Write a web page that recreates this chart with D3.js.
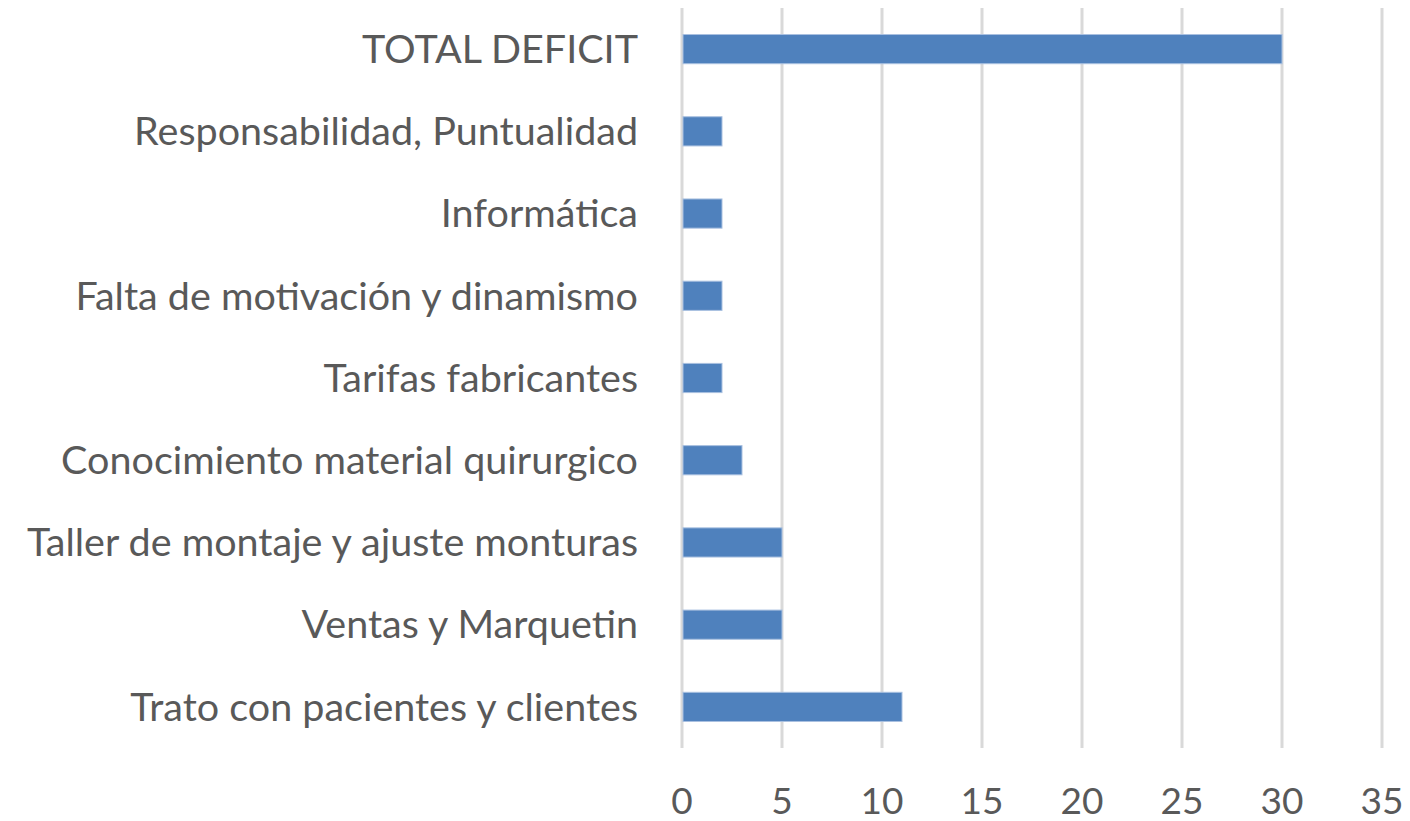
<!DOCTYPE html>
<html><head><meta charset="utf-8">
<script src="https://cdn.jsdelivr.net/npm/d3@7"></script>
<style>body{margin:0;background:#fff}svg{display:block}</style>
</head><body>
<script>
const categories = ["TOTAL DEFICIT","Responsabilidad, Puntualidad","Informática","Falta de motivación y dinamismo","Tarifas fabricantes","Conocimiento material quirurgico","Taller de montaje y ajuste monturas","Ventas y Marquetin","Trato con pacientes y clientes"];
const values = [30,2,2,2,2,3,5,5,11];
const xTicks = [0,5,10,15,20,25,30,35];

const W=1410,H=821;
const svg=d3.select("body").append("svg").attr("width",W).attr("height",H);
const x=d3.scaleLinear().domain([0,35]).range([682,1382]);
const y=d3.scaleBand().domain(categories).range([8,748]).paddingInner(0.645).paddingOuter(0.3225);
const font="Lato, 'Open Sans', sans-serif";

svg.append("g").selectAll("line").data(xTicks).join("line")
  .attr("x1",d=>x(d)).attr("x2",d=>x(d)).attr("y1",8).attr("y2",748)
  .attr("stroke","#d9d9d9").attr("stroke-width",3);

svg.append("g").selectAll("rect").data(categories).join("rect")
  .attr("x",x(0)+1).attr("y",d=>y(d))
  .attr("width",(d,i)=>x(values[i])-x(0)-1).attr("height",y.bandwidth())
  .attr("fill","#4f81bd").attr("stroke","#a9c0e0").attr("stroke-width",1);

svg.append("g").selectAll("text").data(categories).join("text")
  .attr("x",638).attr("y",d=>y(d)+y.bandwidth()/2).attr("dy","0.35em")
  .attr("text-anchor","end").attr("font-family",font).attr("font-size",39.5)
  .attr("fill","#595959").text(d=>d);

svg.append("g").selectAll("text").data(xTicks).join("text")
  .attr("x",d=>x(d)).attr("y",814).attr("text-anchor","middle")
  .attr("font-family",font).attr("font-size",37).attr("fill","#595959").text(d=>d);
</script>
</body></html>
